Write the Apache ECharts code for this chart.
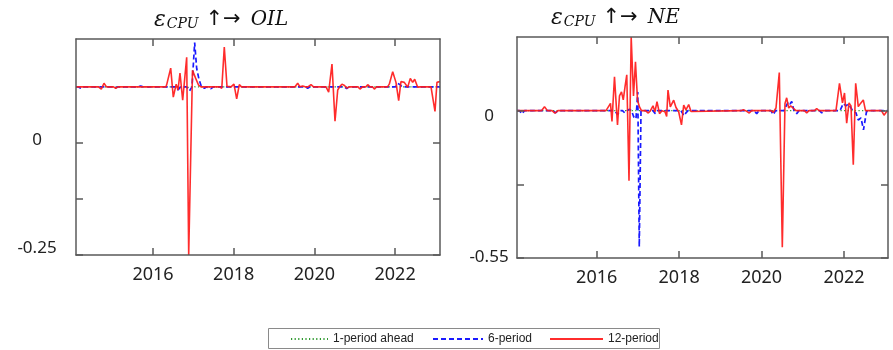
<!DOCTYPE html>
<html>
<head>
<meta charset="utf-8">
<script src="https://cdn.jsdelivr.net/npm/echarts@6/dist/echarts.min.js"></script>
<style>
  html, body { margin: 0; padding: 0; background: #fff; }
  #chart { width: 893px; height: 350px; }
</style>
</head>
<body>
<div id="chart"></div>
<script>
// Impulse responses of OIL and NE to a CPU shock, by horizon.
// Each series: [decimal year, response].
const yearTicks = [2016, 2018, 2020, 2022];
const oilTicks = [-0.25, -0.125, 0];
const oilLabels = [-0.25, 0];
const neTicks = [-0.55, -0.275, 0];
const neLabels = [-0.55, 0];
const seriesNames = ['1-period ahead', '6-period', '12-period'];

const oil1 = [
  [2014.092, 0.126], [2016.83, 0.126], [2016.90, 0.124], [2016.97, 0.127], [2017.05, 0.126], [2023.113, 0.126]
];
const oil6 = [
  [2014.092, 0.126], [2014.142, 0.126], [2014.208, 0.123], [2014.265, 0.126], [2015.021, 0.126],
  [2015.076, 0.124], [2015.132, 0.126], [2015.628, 0.126], [2015.695, 0.128], [2015.752, 0.126],
  [2016.558, 0.126], [2016.620, 0.119], [2016.682, 0.126], [2016.830, 0.126], [2016.905, 0.117],
  [2016.967, 0.126], [2017.033, 0.225], [2017.083, 0.167], [2017.140, 0.143], [2017.202, 0.126],
  [2017.227, 0.126], [2017.276, 0.123], [2017.326, 0.126], [2017.375, 0.126], [2017.437, 0.122],
  [2017.499, 0.126], [2018.900, 0.126], [2018.949, 0.123], [2018.999, 0.126], [2019.779, 0.126],
  [2019.834, 0.123], [2019.891, 0.126], [2020.238, 0.126], [2020.287, 0.129], [2020.337, 0.126],
  [2020.746, 0.126], [2020.800, 0.122], [2020.858, 0.126], [2022.010, 0.126], [2022.064, 0.134],
  [2022.121, 0.131], [2022.171, 0.126], [2023.113, 0.126]
];
const oil12 = [
  [2014.092, 0.126], [2014.649, 0.126], [2014.719, 0.121], [2014.786, 0.134], [2014.848, 0.126],
  [2015.021, 0.126], [2015.076, 0.123], [2015.132, 0.126], [2016.322, 0.126], [2016.340, 0.131],
  [2016.439, 0.168], [2016.503, 0.103], [2016.575, 0.132], [2016.620, 0.119], [2016.669, 0.157],
  [2016.736, 0.096], [2016.835, 0.192], [2016.885, -0.25], [2016.979, 0.163], [2017.053, 0.146],
  [2017.128, 0.130], [2017.190, 0.126], [2017.648, 0.126], [2017.705, 0.123], [2017.767, 0.215],
  [2017.834, 0.127], [2017.933, 0.126], [2018.007, 0.132], [2018.074, 0.099], [2018.139, 0.131],
  [2018.193, 0.126], [2019.519, 0.126], [2019.586, 0.134], [2019.643, 0.126], [2019.710, 0.128],
  [2019.770, 0.126], [2019.841, 0.126], [2019.916, 0.131], [2019.978, 0.126], [2020.288, 0.126],
  [2020.354, 0.114], [2020.436, 0.177], [2020.511, 0.049], [2020.578, 0.119], [2020.634, 0.127],
  [2020.684, 0.132], [2020.746, 0.129], [2020.808, 0.123], [2020.858, 0.126], [2021.081, 0.126],
  [2021.130, 0.121], [2021.192, 0.126], [2021.279, 0.126], [2021.321, 0.131], [2021.378, 0.126],
  [2021.440, 0.126], [2021.485, 0.121], [2021.539, 0.126], [2021.812, 0.126], [2021.856, 0.132],
  [2021.941, 0.160], [2022.022, 0.136], [2022.089, 0.095], [2022.146, 0.138], [2022.228, 0.136],
  [2022.312, 0.125], [2022.377, 0.145], [2022.436, 0.136], [2022.486, 0.143], [2022.560, 0.125],
  [2022.617, 0.126], [2022.890, 0.126], [2022.932, 0.125], [2022.989, 0.071], [2023.038, 0.136],
  [2023.113, 0.138]
];

const ne1 = [
  [2014.067, 0], [2016.75, 0], [2016.80, 0.004], [2016.85, 0], [2023.067, 0]
];
const ne6 = [
  [2014.067, 0], [2014.127, 0], [2014.188, -0.012], [2014.248, 0], [2014.940, 0], [2015.000, -0.008],
  [2015.061, 0], [2016.432, 0], [2016.505, -0.014], [2016.565, 0], [2016.626, 0], [2016.679, -0.008],
  [2016.735, 0], [2016.796, 0.005], [2016.845, 0], [2016.898, -0.023], [2016.953, -0.031],
  [2016.997, 0.070], [2017.033, -0.508], [2017.075, -0.001], [2017.123, -0.004], [2017.172, 0],
  [2017.366, 0], [2017.422, -0.011], [2017.475, 0], [2018.045, 0], [2018.118, -0.019],
  [2018.166, -0.008], [2018.215, 0], [2019.816, 0], [2019.882, -0.011], [2019.937, 0], [2020.229, 0],
  [2020.284, -0.015], [2020.338, 0], [2020.544, 0], [2020.593, 0.016], [2020.648, 0.033],
  [2020.690, 0.025], [2020.731, 0.034], [2020.787, 0], [2020.852, -0.011], [2020.908, 0],
  [2021.405, 0], [2021.459, -0.008], [2021.514, 0], [2021.902, 0], [2021.982, 0.027],
  [2022.048, 0.018], [2022.104, 0.025], [2022.170, 0.010], [2022.225, -0.004], [2022.290, -0.008],
  [2022.346, -0.035], [2022.412, -0.027], [2022.472, -0.072], [2022.545, -0.004], [2022.606, 0],
  [2023.067, 0]
];
const ne12 = [
  [2014.067, 0], [2014.661, 0], [2014.734, 0.015], [2014.806, 0], [2014.916, 0], [2014.988, -0.009],
  [2015.061, 0], [2016.226, 0], [2016.298, 0.018], [2016.335, 0.027], [2016.371, -0.040],
  [2016.432, 0.126], [2016.505, -0.053], [2016.553, 0.055], [2016.602, 0.070], [2016.645, 0.040],
  [2016.687, 0.089], [2016.730, 0.134], [2016.784, -0.262], [2016.837, 0.275], [2016.893, 0.055],
  [2016.941, 0.182], [2016.990, 0.040], [2017.038, 0.014], [2017.087, 0], [2017.184, 0],
  [2017.252, -0.009], [2017.305, 0], [2017.366, 0.018], [2017.414, -0.004], [2017.463, 0.034],
  [2017.524, -0.011], [2017.584, 0], [2017.657, -0.004], [2017.698, -0.022], [2017.730, 0.077],
  [2017.786, 0.014], [2017.868, 0.039], [2017.924, 0.012], [2017.989, -0.004], [2018.057, -0.053],
  [2018.111, 0.021], [2018.166, 0.003], [2018.232, 0.023], [2018.288, -0.003], [2018.336, 0],
  [2019.501, 0], [2019.557, 0.003], [2019.613, 0], [2019.702, -0.009], [2019.756, 0],
  [2019.799, 0.007], [2019.853, 0], [2020.229, 0], [2020.284, -0.006], [2020.350, 0.010],
  [2020.430, 0.142], [2020.503, -0.510], [2020.568, 0.027], [2020.609, 0.048], [2020.658, 0.010],
  [2020.706, 0.018], [2020.769, 0.009], [2020.835, 0], [2021.041, 0], [2021.095, -0.008],
  [2021.151, 0], [2021.284, 0], [2021.337, 0.008], [2021.393, 0], [2021.805, 0], [2021.890, 0.102],
  [2021.963, 0.029], [2022.012, 0.066], [2022.065, -0.047], [2022.121, 0.029], [2022.169, 0.018],
  [2022.225, -0.202], [2022.283, 0.102], [2022.346, 0.015], [2022.405, 0.028], [2022.468, 0.040],
  [2022.521, 0], [2022.909, 0], [2022.970, -0.017], [2023.031, -0.004], [2023.067, -0.001]
];

const FRAME = '#5a5a5a';
const LABEL_FONT = 'Noto Sans';
const MATH_FONT = 'DejaVu Serif';

const chart = echarts.init(document.getElementById('chart'), null, { renderer: 'canvas' });

// Fresh option objects for every axis so nothing is shared between them.
function frameLine() {
  return { show: true, onZero: false, lineStyle: { color: FRAME, width: 1.5 } };
}
function tickStyle(values) {
  return { show: true, inside: true, length: 7, customValues: values.slice(), lineStyle: { color: FRAME, width: 1.5 } };
}

function xAxes(grid, min, max) {
  return [
    {
      type: 'value', gridIndex: grid, min: min, max: max, position: 'bottom', z: 5,
      splitLine: { show: false }, axisLine: frameLine(), axisTick: tickStyle(yearTicks),
      axisLabel: { customValues: yearTicks.slice(), formatter: v => String(v), fontFamily: LABEL_FONT,
        fontSize: 18, color: '#222', margin: 11 }
    },
    {
      type: 'value', gridIndex: grid, min: min, max: max, position: 'top', z: 5,
      splitLine: { show: false }, axisLine: frameLine(), axisTick: tickStyle(yearTicks),
      axisLabel: { show: false }
    }
  ];
}

function yAxes(grid, min, max, ticks, labels, margin, shifts) {
  const rich = {};
  labels.forEach((v, i) => {
    const s = shifts[i];
    rich['l' + i] = {
      fontFamily: LABEL_FONT, fontSize: 17, color: '#222', align: 'center',
      padding: s < 0 ? [0, 0, -2 * s, 0] : [2 * s, 0, 0, 0]
    };
  });
  return [
    {
      type: 'value', gridIndex: grid, min: min, max: max, position: 'left', z: 5,
      splitLine: { show: false }, axisLine: frameLine(), axisTick: tickStyle(ticks),
      axisLabel: {
        customValues: labels.slice(), align: 'center', margin: margin,
        formatter: v => {
          const i = labels.findIndex(l => Math.abs(l - v) < 1e-9);
          return '{l' + i + '|' + (v === 0 ? '0' : String(v)) + '}';
        },
        rich: rich
      }
    },
    {
      type: 'value', gridIndex: grid, min: min, max: max, position: 'right', z: 5,
      splitLine: { show: false }, axisLine: frameLine(), axisTick: tickStyle(ticks),
      axisLabel: { show: false }
    }
  ];
}

function lines(xi, yi, d1, d6, d12) {
  return [
    { name: seriesNames[0], type: 'line', xAxisIndex: xi, yAxisIndex: yi, data: d1, symbol: 'none',
      lineStyle: { color: '#2f9a2f', width: 1.2, type: [1.2, 2.4] }, itemStyle: { color: '#2f9a2f' }, z: 2, animation: false },
    { name: seriesNames[1], type: 'line', xAxisIndex: xi, yAxisIndex: yi, data: d6, symbol: 'none',
      lineStyle: { color: '#1a1aff', width: 1.7, type: [5, 3] }, itemStyle: { color: '#1a1aff' }, z: 3, animation: false },
    { name: seriesNames[2], type: 'line', xAxisIndex: xi, yAxisIndex: yi, data: d12, symbol: 'none',
      lineStyle: { color: '#ff1a1a', width: 1.6, opacity: 0.92 }, itemStyle: { color: '#ff1a1a' }, z: 4, animation: false }
  ];
}

const titleRich = {
  e: { fontFamily: MATH_FONT, fontStyle: 'italic', fontWeight: 'normal', fontSize: 22, color: '#111', verticalAlign: 'middle' },
  s: { fontFamily: MATH_FONT, fontStyle: 'italic', fontWeight: 'normal', fontSize: 14, color: '#111', verticalAlign: 'bottom', padding: [0, 0, 0, 1] },
  a: { fontFamily: 'DejaVu Sans', fontWeight: 'normal', fontSize: 21, color: '#111', verticalAlign: 'middle', padding: [0, 2, 0, 2] },
  i: { fontFamily: MATH_FONT, fontStyle: 'italic', fontWeight: 'normal', fontSize: 20, color: '#111', verticalAlign: 'middle', padding: [0, 0, 0, 3] }
};

function legendItem(name, left, width) {
  return {
    data: [name], left: left, top: 333, itemWidth: width, itemHeight: 8, padding: 0,
    itemStyle: { opacity: 0 },
    textStyle: { fontFamily: 'Liberation Sans', fontSize: 12, color: '#222' },
    selectedMode: false, z: 10
  };
}

chart.setOption({
  backgroundColor: '#ffffff',
  animation: false,
  title: [
    { text: '{e|ε}{s|CPU} {a|↑→} {i|OIL}', left: 149, top: 4, textStyle: { fontWeight: 'normal', rich: titleRich } },
    { text: '{e|ε}{s|CPU} {a|↑→} {i|NE}', left: 546, top: 2, textStyle: { fontWeight: 'normal', rich: titleRich } }
  ],
  grid: [
    { left: 76, top: 39, width: 364, height: 216 },
    { left: 517, top: 37, width: 371, height: 221 }
  ],
  xAxis: [].concat(xAxes(0, 2014.092, 2023.113), xAxes(1, 2014.067, 2023.067)),
  yAxis: [].concat(
    yAxes(0, -0.25, 0.233, oilTicks, oilLabels, 39, [-7, -3]),
    yAxes(1, -0.55, 0.275, neTicks, neLabels, 28, [-1, 5])
  ),
  legend: [
    legendItem(seriesNames[0], 290, 37),
    legendItem(seriesNames[1], 432, 50),
    legendItem(seriesNames[2], 549, 53)
  ],
  graphic: [
    { type: 'rect', z: 1, shape: { x: 268.5, y: 328.5, width: 391, height: 20 },
      style: { fill: '#fff', stroke: '#8a8a8a', lineWidth: 1 } }
  ],
  series: [].concat(
    lines(0, 0, oil1, oil6, oil12),
    lines(2, 2, ne1, ne6, ne12)
  )
});
</script>
</body>
</html>
